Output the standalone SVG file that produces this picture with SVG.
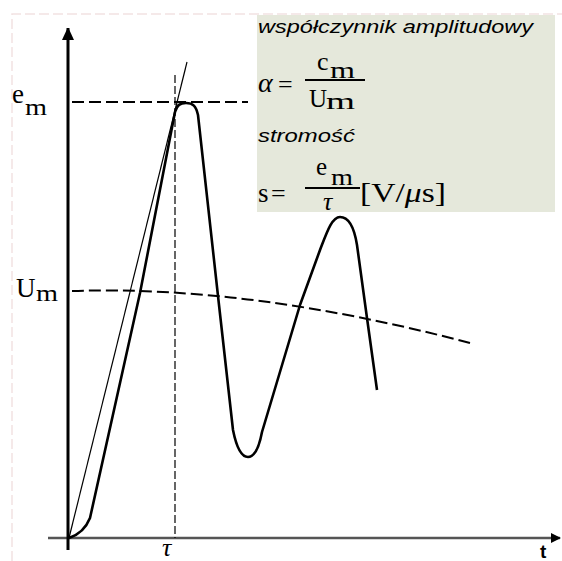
<svg xmlns="http://www.w3.org/2000/svg" width="562" height="561" viewBox="0 0 562 561">
<style>
.serif{font-family:"Liberation Serif","Times New Roman",serif;fill:#000}
.sans{font-family:"Liberation Sans",Arial,sans-serif;fill:#000}
.it{font-style:italic}
.dash{fill:none;stroke:#000;stroke-width:2;stroke-dasharray:12 5}
.thin{fill:none;stroke:#000;stroke-width:1.2}
</style>
<defs>
<marker id="arr" markerWidth="10" markerHeight="10" refX="9" refY="5" orient="auto" markerUnits="userSpaceOnUse">
<path d="M0,0 L10,5 L0,10 Z" fill="#000"/>
</marker>
<marker id="arrY" markerWidth="12" markerHeight="14" refX="12" refY="6" orient="auto" markerUnits="userSpaceOnUse">
<path d="M0,0 L13,6 L0,12 Z" fill="#000"/>
</marker>
</defs>
<rect width="562" height="561" fill="#fff"/>
<path d="M12,561 V14 H562" fill="none" stroke="#f2e2e2" stroke-width="1.5" stroke-dasharray="10 4"/>
<g id="box">
<rect x="257" y="15" width="298" height="197" fill="#e5e8db"/>
<text class="sans it" x="258" y="33" font-size="18" textLength="275" lengthAdjust="spacingAndGlyphs">współczynnik amplitudowy</text>
<text class="serif it" x="258" y="92" font-size="28">α</text>
<text class="serif" x="278" y="93" font-size="26">=</text>
<text class="serif" x="317" y="70" font-size="26">c</text>
<text class="serif" x="330" y="78" font-size="23" textLength="25" lengthAdjust="spacingAndGlyphs">m</text>
<line x1="305" y1="80" x2="365" y2="80" stroke="#000" stroke-width="2"/>
<text class="serif" x="309" y="107" font-size="25">U</text>
<text class="serif" x="326" y="109" font-size="23" textLength="29" lengthAdjust="spacingAndGlyphs">m</text>
<text class="sans it" x="258" y="142" font-size="18" textLength="97" lengthAdjust="spacingAndGlyphs">stromość</text>
<text class="serif" x="258" y="202" font-size="27">s</text>
<text class="serif" x="271" y="202" font-size="26">=</text>
<text class="serif" x="316" y="175" font-size="25">e</text>
<text class="serif" x="331" y="185" font-size="23" textLength="22" lengthAdjust="spacingAndGlyphs">m</text>
<line x1="305" y1="188" x2="360" y2="188" stroke="#000" stroke-width="2"/>
<text class="serif it" x="323" y="210" font-size="26">τ</text>
<text class="serif" x="360" y="202" font-size="27" textLength="86" lengthAdjust="spacingAndGlyphs">[V/<tspan font-style="italic">μ</tspan>s]</text>
</g>
<g id="axes">
<line x1="48" y1="538" x2="560" y2="538" stroke="#555" stroke-width="2.5" marker-end="url(#arr)"/>
<line x1="68" y1="550" x2="68" y2="28" stroke="#000" stroke-width="3" marker-end="url(#arrY)"/>
<text class="sans" x="540" y="558" font-size="19" font-weight="bold">t</text>
<text class="serif it" x="162" y="556" font-size="26">τ</text>
<text class="serif" x="12" y="103" font-size="27">e</text>
<text class="serif" x="25" y="115" font-size="24" textLength="22" lengthAdjust="spacingAndGlyphs">m</text>
<text class="serif" x="16" y="297" font-size="27">U</text>
<text class="serif" x="36" y="301" font-size="24" textLength="22" lengthAdjust="spacingAndGlyphs">m</text>
</g>
<g id="connectors">
<line class="dash" x1="72" y1="102" x2="248" y2="102"/>
<line x1="175" y1="75" x2="175" y2="538" fill="none" stroke="#000" stroke-width="1.2" stroke-dasharray="8 3"/>
<line class="thin" x1="69" y1="538" x2="187" y2="62"/>
<path class="dash" d="M72,291 Q250,285 470,343"/>
<path d="M69,538 C78,535 86,528 90,518 L140,293 L175,112 C177,105 180,103 186,103 C193,103 196,106 198,115 L218,296 L233,430 C237,450 242,457 248,457 C254,457 259,448 262,432 L300,305 L320,250 C327,232 332,217 340,217 C348,217 354,226 357,245 L367,318 L377,390" fill="none" stroke="#000" stroke-width="2.6" stroke-linejoin="round"/>
</g>
</svg>
